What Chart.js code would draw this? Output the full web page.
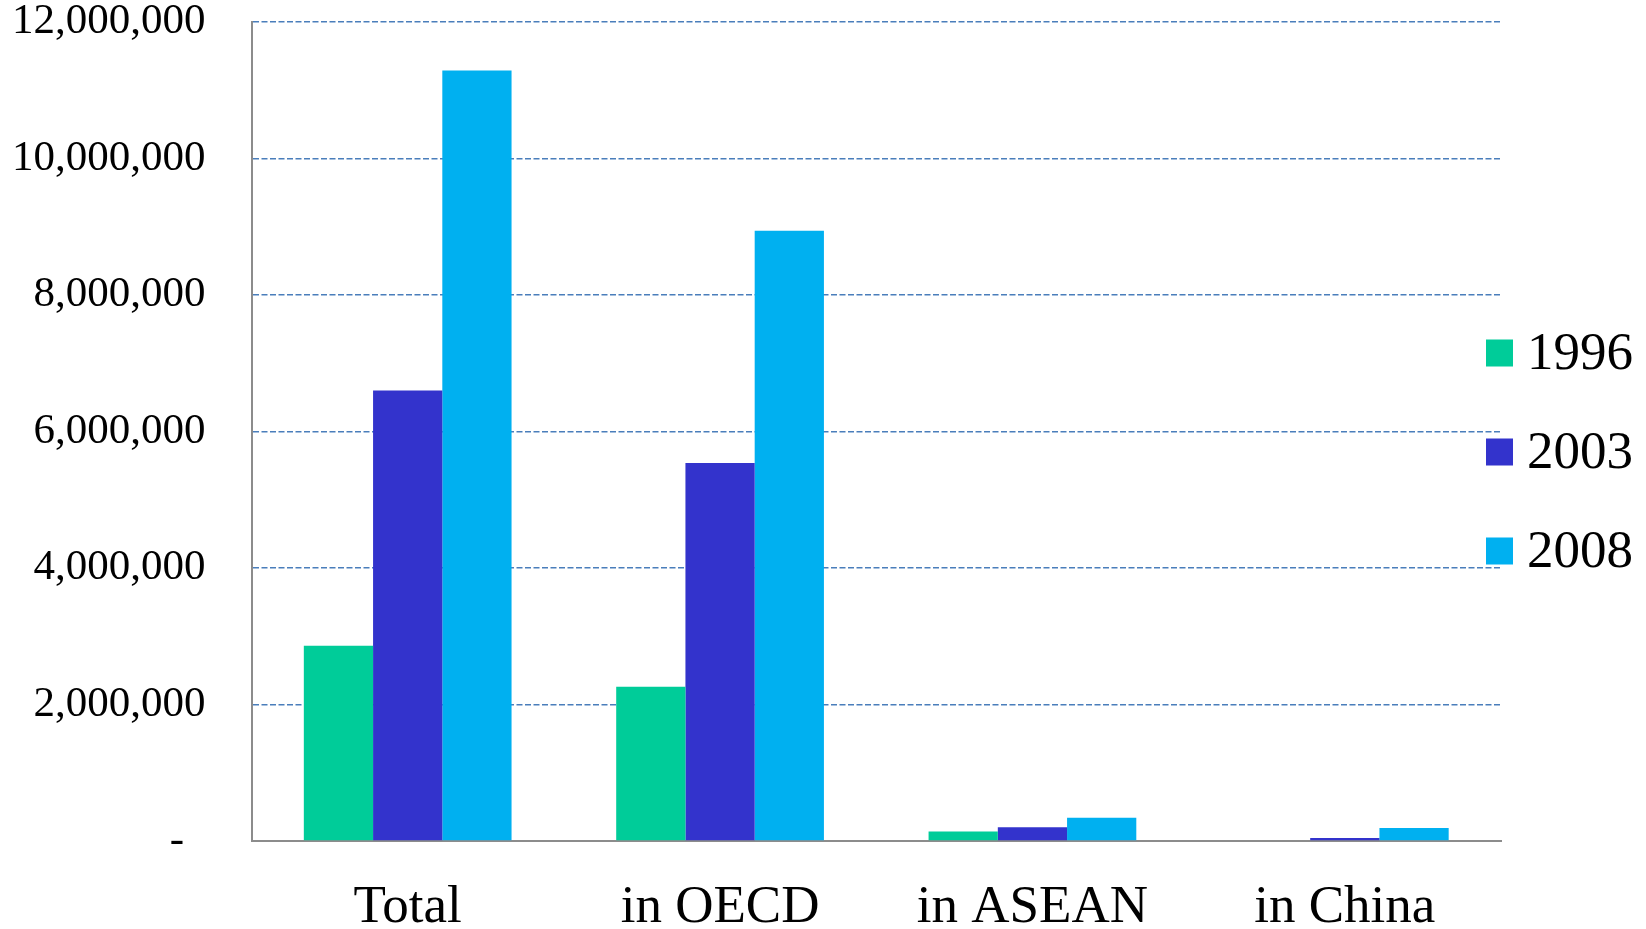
<!DOCTYPE html>
<html>
<head>
<meta charset="utf-8">
<script src="https://cdn.jsdelivr.net/npm/chart.js@4.4.1/dist/chart.umd.min.js"></script>
<style>
  html, body { margin: 0; padding: 0; background: #fff; }
  #wrap { width: 1646px; height: 929px; position: relative; }
</style>
</head>
<body>
<div id="wrap"><canvas id="chart"></canvas></div>
<script>
// 海外生産額の推移（地域別）
const CATEGORIES = ["Total", "in OECD", "in ASEAN", "in China"];
const YEARS = ["1996", "2003", "2008"];
const V_1996 = [2860000, 2260000, 140000, 12000];
const V_2003 = [6600000, 5540000, 200000, 45000];
const V_2008 = [11290000, 8940000, 340000, 190000];
const COLORS = ["#00CC99", "#3333CC", "#00B0F0"];
const Y_MAX = 12000000;
const Y_STEP = 2000000;

const SERIF = "'Liberation Serif', 'Times New Roman', serif";

function fmtNum(v) {
  if (v === 0) return "-\u00a0\u00a0";
  return v.toLocaleString("en-US");
}

// 凡例はプロット右側に縦並びで手描き
const sideLegend = {
  id: "sideLegend",
  afterDraw(chart) {
    const ctx = chart.ctx;
    const area = chart.chartArea;
    const boxX = area.right - 15;
    const y0 = area.top + 331;
    ctx.save();
    ctx.font = `53px ${SERIF}`;
    ctx.textBaseline = "middle";
    ctx.textAlign = "left";
    chart.data.datasets.forEach((ds, i) => {
      const cy = y0 + i * 99;
      ctx.fillStyle = ds.backgroundColor;
      ctx.fillRect(boxX, cy - 13.5, 27, 27);
      ctx.fillStyle = "#000";
      ctx.fillText(ds.label, boxX + 41, cy + 2);
    });
    ctx.restore();
  }
};

const series = [V_1996, V_2003, V_2008];

new Chart(document.getElementById("chart").getContext("2d"), {
  type: "bar",
  data: {
    labels: CATEGORIES,
    datasets: YEARS.map((y, i) => ({
      label: y,
      data: series[i],
      backgroundColor: COLORS[i],
      borderWidth: 0,
      barPercentage: 1.0,
      categoryPercentage: 0.665,
    }))
  },
  options: {
    responsive: true,
    maintainAspectRatio: false,
    animation: false,
    layout: { padding: { left: 12, right: 145, top: 22, bottom: -6 } },
    plugins: {
      legend: { display: false },
      tooltip: { enabled: false },
    },
    scales: {
      x: {
        // 目盛線は出さず、ラベルとの間隔は tickLength で確保
        grid: { display: false, drawTicks: true, tickLength: 41, tickColor: "rgba(0,0,0,0)" },
        border: { display: true, color: "#8c8c8c", width: 2 },
        ticks: { color: "#000", padding: 0, font: { family: SERIF, size: 53, lineHeight: 1 } },
      },
      y: {
        min: 0,
        max: Y_MAX,
        ticks: {
          stepSize: Y_STEP,
          color: "#000",
          padding: 0,
          font: { family: SERIF, size: 43, lineHeight: 1 },
          callback: (v) => fmtNum(v),
        },
        grid: {
          drawTicks: true,
          tickLength: 46,
          tickColor: "rgba(0,0,0,0)",
          color: (c) => (c.tick && c.tick.value === 0 ? "rgba(0,0,0,0)" : "#4a7ebb"),
          lineWidth: 1.6,
        },
        border: { display: true, color: "#8c8c8c", width: 2, dash: [6, 2.5] },
      },
    },
  },
  plugins: [sideLegend],
});
</script>
</body>
</html>
